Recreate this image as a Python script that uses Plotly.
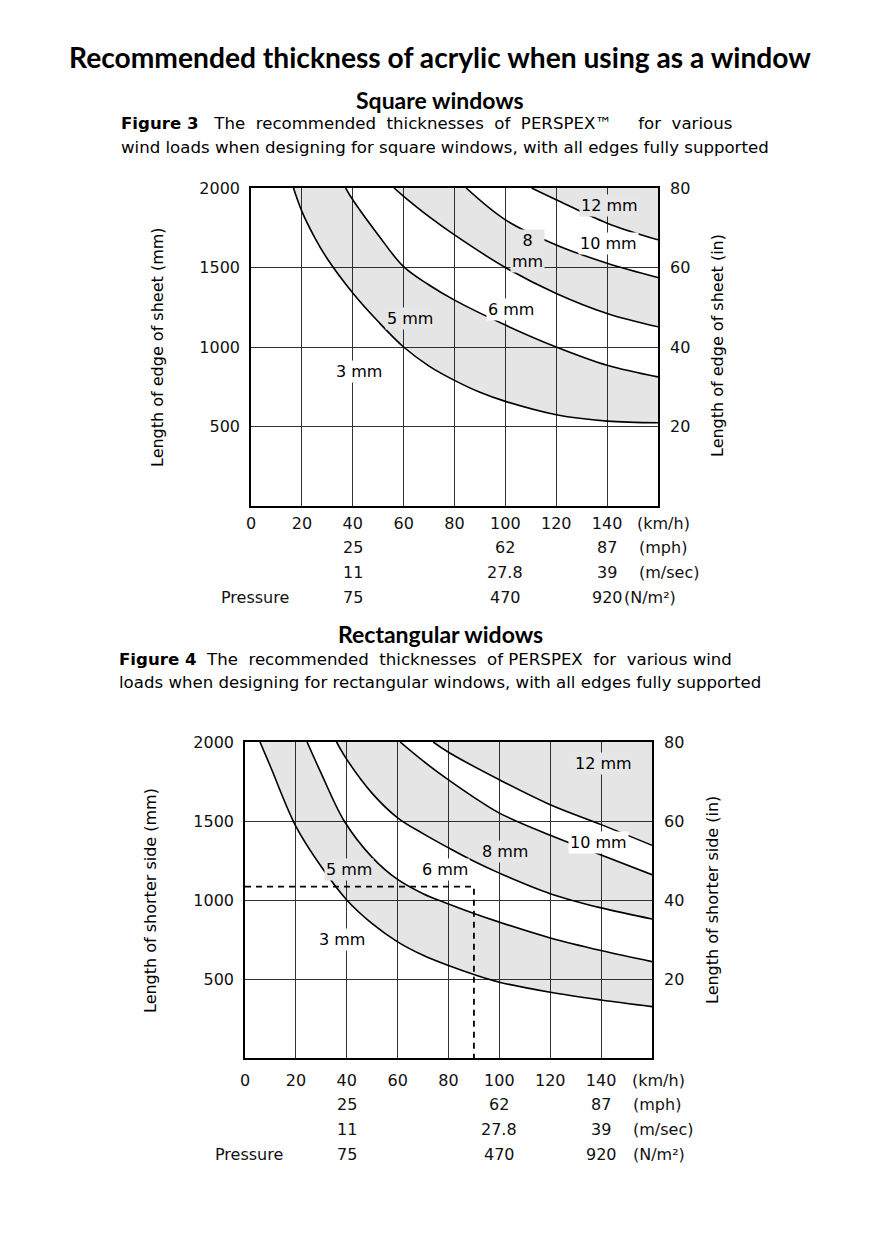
import plotly.graph_objects as go

# ---------------- DATA ----------------
# Wind speed axis (km/h) and ticks
speed_ticks = [0, 20, 40, 60, 80, 100, 120, 140]
speed_tick_labels = ["0", "20", "40", "60", "80", "100", "120", "140"]
len_ticks = [500, 1000, 1500, 2000]
len_tick_labels = ["500", "1000", "1500", "2000"]
inch_ticks = [20, 40, 60, 80]
inch_tick_labels = ["20", "40", "60", "80"]
X_MAX = 160
Y_MAX = 2000
IN_MAX = 80

# secondary scale rows (placed at km/h positions)
conv_pos = [40, 100, 140]
mph_labels = ["25", "62", "87"]
ms_labels = ["11", "27.8", "39"]
pressure_labels = ["75", "470", "920"]

# Square windows: boundary curves (speed km/h, edge length mm)
sq_b1_x = [16.7, 20, 25, 30, 40, 50, 60, 70, 80, 90, 100, 120, 140, 160]
sq_b1_y = [2000, 1853, 1690, 1555, 1340, 1160, 1000, 880, 790, 715, 658, 574, 534, 524]
sq_b2_x = [37.2, 40, 50, 60, 70, 80, 100, 120, 140, 160]
sq_b2_y = [2000, 1926, 1705, 1505, 1390, 1295, 1138, 1000, 885, 812]
sq_b3_x = [56.2, 60, 70, 80, 100, 120, 140, 160]
sq_b3_y = [2000, 1948, 1820, 1705, 1500, 1337, 1211, 1127]
sq_b4_x = [84.6, 100, 120, 140, 160]
sq_b4_y = [2000, 1800, 1642, 1527, 1437]
sq_b5_x = [110.3, 120, 140, 160]
sq_b5_y = [2000, 1926, 1779, 1674]

# Rectangular windows: boundary curves (speed km/h, shorter side mm)
re_b1_x = [5.9, 10, 20, 30, 40, 50, 60, 70, 80, 90, 100, 120, 140, 160]
re_b1_y = [2000, 1845, 1466, 1210, 1000, 850, 735, 650, 585, 528, 480, 416, 367, 325]
re_b2_x = [24.4, 30, 39, 50, 60, 70, 80, 90, 100, 120, 140, 160]
re_b2_y = [2000, 1800, 1500, 1270, 1130, 1040, 975, 915, 860, 760, 680, 610]
re_b3_x = [36, 40, 50, 60, 70, 80, 90, 100, 120, 140, 160]
re_b3_y = [2000, 1890, 1675, 1520, 1420, 1330, 1245, 1170, 1040, 950, 880]
re_b4_x = [61.0, 70, 80, 90, 100, 120, 140, 160]
re_b4_y = [2000, 1880, 1760, 1650, 1550, 1410, 1285, 1160]
re_b5_x = [74.0, 80, 100, 120, 140, 160]
re_b5_y = [2000, 1935, 1761, 1603, 1477, 1346]

# Worked example on rectangular chart
example_speed = 90
example_length = 1085

# --------------- STYLE ----------------
W, H = 880, 1252
GRAY = "rgba(0,0,0,0.10)"
GRAY_SOLID = "#e6e6e6"
SANS = "DejaVu Sans"
TITLE_FONT = "Lato"
NB = "\u00a0"
S2 = NB + " "   # widened word gap (justified caption line)


def px_x(p):
    return p / W


def px_y(p):
    return 1 - p / H


fig = go.Figure()


def add_chart(xa, ya, curves):
    xs_ref = "x" if xa == 1 else f"x{xa}"
    ys_ref = "y" if ya == 1 else f"y{ya}"
    pairs = [(curves[0], curves[1]), (curves[2], curves[3])]
    for lo, hi in pairs:
        fig.add_trace(go.Scatter(x=lo[0], y=lo[1], mode="lines", xaxis=xs_ref, yaxis=ys_ref,
                                 line=dict(width=0, shape="spline"), hoverinfo="skip", showlegend=False))
        fig.add_trace(go.Scatter(x=hi[0], y=hi[1], mode="lines", xaxis=xs_ref, yaxis=ys_ref,
                                 line=dict(width=0, shape="spline"), fill="tonexty", fillcolor=GRAY,
                                 hoverinfo="skip", showlegend=False))
    last = curves[4]
    fig.add_trace(go.Scatter(x=last[0], y=last[1], mode="lines", xaxis=xs_ref, yaxis=ys_ref,
                             line=dict(width=0, shape="spline"), hoverinfo="skip", showlegend=False))
    fig.add_trace(go.Scatter(x=[last[0][0], X_MAX], y=[Y_MAX, Y_MAX], mode="lines", xaxis=xs_ref, yaxis=ys_ref,
                             line=dict(width=0), fill="tonexty", fillcolor=GRAY,
                             hoverinfo="skip", showlegend=False))
    for cx, cy in curves:
        fig.add_trace(go.Scatter(x=cx, y=cy, mode="lines", xaxis=xs_ref, yaxis=ys_ref,
                                 line=dict(color="black", width=1.6, shape="spline"),
                                 hoverinfo="skip", showlegend=False))


sq_curves = [(sq_b1_x, sq_b1_y), (sq_b2_x, sq_b2_y), (sq_b3_x, sq_b3_y), (sq_b4_x, sq_b4_y), (sq_b5_x, sq_b5_y)]
re_curves = [(re_b1_x, re_b1_y), (re_b2_x, re_b2_y), (re_b3_x, re_b3_y), (re_b4_x, re_b4_y), (re_b5_x, re_b5_y)]

add_chart(1, 1, sq_curves)
add_chart(2, 3, re_curves)

# dashed worked example
fig.add_trace(go.Scatter(x=[0, example_speed, example_speed], y=[example_length, example_length, 0],
                         mode="lines", xaxis="x2", yaxis="y3",
                         line=dict(color="black", width=1.8, dash="6px,5px"),
                         hoverinfo="skip", showlegend=False))

# invisible traces to activate the right-hand axes
fig.add_trace(go.Scatter(x=[0], y=[0], mode="markers", xaxis="x", yaxis="y2",
                         marker=dict(opacity=0), hoverinfo="skip", showlegend=False))
fig.add_trace(go.Scatter(x=[0], y=[0], mode="markers", xaxis="x2", yaxis="y4",
                         marker=dict(opacity=0), hoverinfo="skip", showlegend=False))

# ---- axes ----
top_x = [px_x(251), px_x(658)]
top_y = [px_y(506), px_y(188)]
bot_x = [px_x(245), px_x(652)]
bot_y = [px_y(1058), px_y(742)]

tickfont = dict(family=SANS, size=16, color="#111")
grid = dict(showgrid=True, gridcolor="#333333", gridwidth=1, zeroline=False, automargin=False,
            showline=True, linecolor="black", linewidth=1.5, mirror=True, ticks="",
            tickfont=tickfont)
right = dict(showgrid=False, zeroline=False, showline=False, ticks="", tickfont=tickfont,
             ticklabelstandoff=11, automargin=False)

fig.update_layout(
    template="none",
    xaxis=dict(domain=top_x, anchor="y", range=[0, X_MAX], tickvals=speed_ticks, ticktext=speed_tick_labels,
               ticklabelstandoff=2, **grid),
    yaxis=dict(domain=top_y, anchor="x", range=[0, Y_MAX], tickvals=len_ticks, ticktext=len_tick_labels,
               ticklabelstandoff=6, **grid),
    yaxis2=dict(domain=top_y, anchor="x", overlaying="y", side="right", range=[0, IN_MAX],
                tickvals=inch_ticks, ticktext=inch_tick_labels, **right),
    xaxis2=dict(domain=bot_x, anchor="y3", range=[0, X_MAX], tickvals=speed_ticks, ticktext=speed_tick_labels,
                ticklabelstandoff=7, **grid),
    yaxis3=dict(domain=bot_y, anchor="x2", range=[0, Y_MAX], tickvals=len_ticks, ticktext=len_tick_labels,
                ticklabelstandoff=6, **grid),
    yaxis4=dict(domain=bot_y, anchor="x2", overlaying="y3", side="right", range=[0, IN_MAX],
                tickvals=inch_ticks, ticktext=inch_tick_labels, **right),
    width=W, height=H, margin=dict(l=0, r=0, t=0, b=0, autoexpand=False),
    paper_bgcolor="white", plot_bgcolor="white", showlegend=False,
)

ann = []


def page_text(text, x, y, size, family, anchor="center", bold=False):
    ann.append(dict(text=f"<b>{text}</b>" if bold else text, x=px_x(x), y=px_y(y), xref="paper", yref="paper",
                    xanchor=anchor, yanchor="middle", showarrow=False,
                    font=dict(family=family, size=size, color="black")))


page_text("Recommended thickness of acrylic when using as a window", 440, 57, 28.2, TITLE_FONT, bold=True)
page_text("Square windows", 440, 100, 23, TITLE_FONT, bold=True)
page_text(f"<b>Figure 3</b>{NB}{S2}The{S2}recommended{S2}thicknesses{S2}of{S2}PERSPEX™{NB}{NB}{NB}{S2}for{S2}various",
          119, 124, 16.6, SANS, "left")
page_text("wind loads when designing for square windows, with all edges fully supported", 119, 147, 16.6, SANS, "left")
page_text("Rectangular widows", 440, 634, 23, TITLE_FONT, bold=True)
page_text(f"<b>Figure 4</b>{NB} The{S2}recommended{S2}thicknesses{S2}of PERSPEX{NB} for{S2}various wind",
          117, 659, 16.6, SANS, "left")
page_text("loads when designing for rectangular windows, with all edges fully supported", 117, 682, 16.6, SANS, "left")


def vtitle(text, x, y):
    ann.append(dict(text=text, x=px_x(x), y=px_y(y), xref="paper", yref="paper", textangle=-90,
                    xanchor="center", yanchor="middle", showarrow=False,
                    font=dict(family=SANS, size=16, color="black")))


vtitle("Length of edge of sheet (mm)", 157, 347)
vtitle("Length of edge of sheet (in)", 717, 346)
vtitle("Length of shorter side (mm)", 150, 901)
vtitle("Length of shorter side (in)", 712, 900)


def rows(xref, yref, first_gap, step, unit_x_shift):
    units = ["(km/h)", "(mph)", "(m/sec)", "(N/m²)"]
    row_sets = [mph_labels, ms_labels, pressure_labels]
    for r, labs in enumerate(row_sets):
        for pos, lab in zip(conv_pos, labs):
            ann.append(dict(text=lab, x=pos, y=0, xref=xref, yref=yref + " domain",
                            yshift=-(first_gap + step * (r + 1)), xanchor="center", yanchor="middle",
                            showarrow=False, font=tickfont))
    for r, u in enumerate(units):
        ann.append(dict(text=u, x=1, y=0, xref=xref + " domain", yref=yref + " domain",
                        xshift=unit_x_shift[r], yshift=-(first_gap + step * r), xanchor="left", yanchor="middle",
                        showarrow=False, font=tickfont))
    ann.append(dict(text="Pressure", x=0, y=0, xref=xref + " domain", yref=yref + " domain",
                    xshift=4, yshift=-(first_gap + step * 3), xanchor="center", yanchor="middle",
                    showarrow=False, font=tickfont))


rows("x", "y", 17, 24.7, [-23, -21, -21, -36])
rows("x2", "y3", 22, 24.7, [-22, -21, -21, -21])


def label(text, x, y, xref, yref, bg):
    ann.append(dict(text=text, x=x, y=y, xref=xref, yref=yref, showarrow=False, bgcolor=bg, borderpad=1,
                    xanchor="center", yanchor="middle", font=dict(family=SANS, size=16, color="black")))


label("12 mm", 141, 1893, "x", "y", GRAY_SOLID)
label("10 mm", 140.7, 1654, "x", "y", "white")
label("8<br>mm", 108.5, 1604, "x", "y", GRAY_SOLID)
label("6 mm", 102.2, 1233, "x", "y", "white")
label("5 mm", 62.5, 1182, "x", "y", GRAY_SOLID)
label("3 mm", 42.5, 849, "x", "y", "white")

label("12 mm", 141.1, 1867, "x2", "y3", GRAY_SOLID)
label("10 mm", 138.8, 1361, "x2", "y3", "white")
label("8 mm", 102.2, 1304, "x2", "y3", GRAY_SOLID)
label("6 mm", 78.6, 1196, "x2", "y3", "white")
label("5 mm", 40.9, 1190, "x2", "y3", GRAY_SOLID)
label("3 mm", 38.1, 747, "x2", "y3", "white")

fig.update_layout(annotations=ann)
fig.write_html("out.html", post_script="document.body.style.margin='0';",
               config={"displayModeBar": False})
